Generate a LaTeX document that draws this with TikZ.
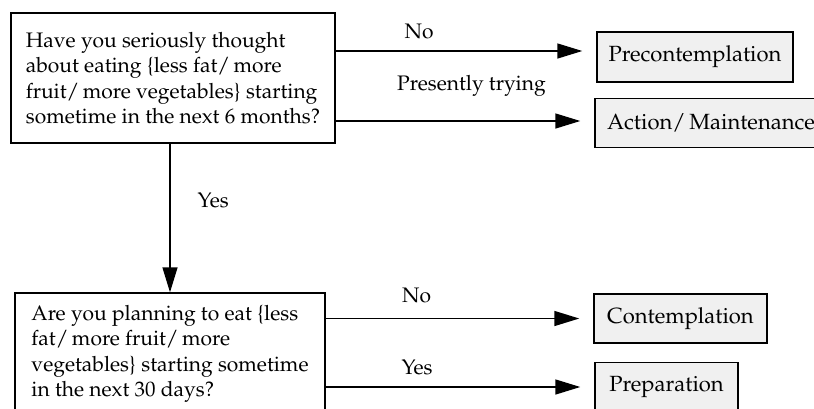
\documentclass[tikz,border=0pt]{standalone}
\usepackage[T1]{fontenc}
\usepackage{mathpazo}
\usepackage{tikz}
\usetikzlibrary{arrows.meta}
\newcommand{\flowFont}{\fontsize{21}{25.5}\selectfont}
\newcommand{\stageFont}{\fontsize{22}{26}\selectfont}
\tikzstyle{chart} = [x = 1pt, y = -1pt, line width = 1.4pt]
\tikzstyle{questionBox} = [draw, align=left, inner sep=0pt, font=\flowFont]
\tikzstyle{stageBox} = [draw, fill=black!6, inner sep=0pt, font=\stageFont]
\tikzstyle{flowArrow} = [-{Triangle[length=25pt, width=15pt]}, shorten >= 14pt]
\tikzstyle{flowLabel} = [inner sep=0pt, font=\flowFont]
\begin{document}
\begin{tikzpicture}[chart]
  \useasboundingbox (0,0) rectangle (814,408);
  % questions
  \node [questionBox, minimum width=324, minimum height=130] (sixMonths) at (173,78)
    {Have you seriously thought\\about eating \{less fat/\,more\\fruit/\,more vegetables\} starting\\sometime in the next 6 months?};
  \node [questionBox, minimum width=310, minimum height=122] (thirtyDays) at (170,354)
    {Are you planning to eat \{less\\fat/\,more fruit/\,more\\vegetables\} starting sometime\\in the next 30 days?};
  % stages
  \node [stageBox, minimum width=196, minimum height=50] (precontemplation) at (695,57) {Precontemplation};
  \node [stageBox, minimum width=232, minimum height=49] (action) at (711,123) {Action/\,Maintenance};
  \node [stageBox, minimum width=173, minimum height=49] (contemplation) at (680.5,318.5) {Contemplation};
  \node [stageBox, minimum width=143, minimum height=49] (preparation) at (666.5,387) {Preparation};
  \coordinate (noTip) at ([yshift=6pt]precontemplation.west);
  \coordinate (tryingTip) at ([yshift=2pt]action.west);
  % answers
  \draw [flowArrow] (sixMonths.east |- noTip) -- (noTip)
    node [flowLabel, pos=0.32, above=11pt] {No};
  \draw [flowArrow] (sixMonths.east |- tryingTip) -- (tryingTip)
    node [flowLabel, pos=0.525, above=24pt] {Presently trying};
  \draw [flowArrow, shorten >= 0pt] (sixMonths.south -| thirtyDays.north) -- (thirtyDays.north)
    node [flowLabel, pos=0.38, right=27pt] {Yes};
  \draw [flowArrow] (thirtyDays.east |- contemplation) -- (contemplation)
    node [flowLabel, pos=0.34, above=15pt] {No};
  \draw [flowArrow] (thirtyDays.east |- preparation) -- (preparation)
    node [flowLabel, pos=0.34, above=11pt] {Yes};
\end{tikzpicture}
\end{document}
